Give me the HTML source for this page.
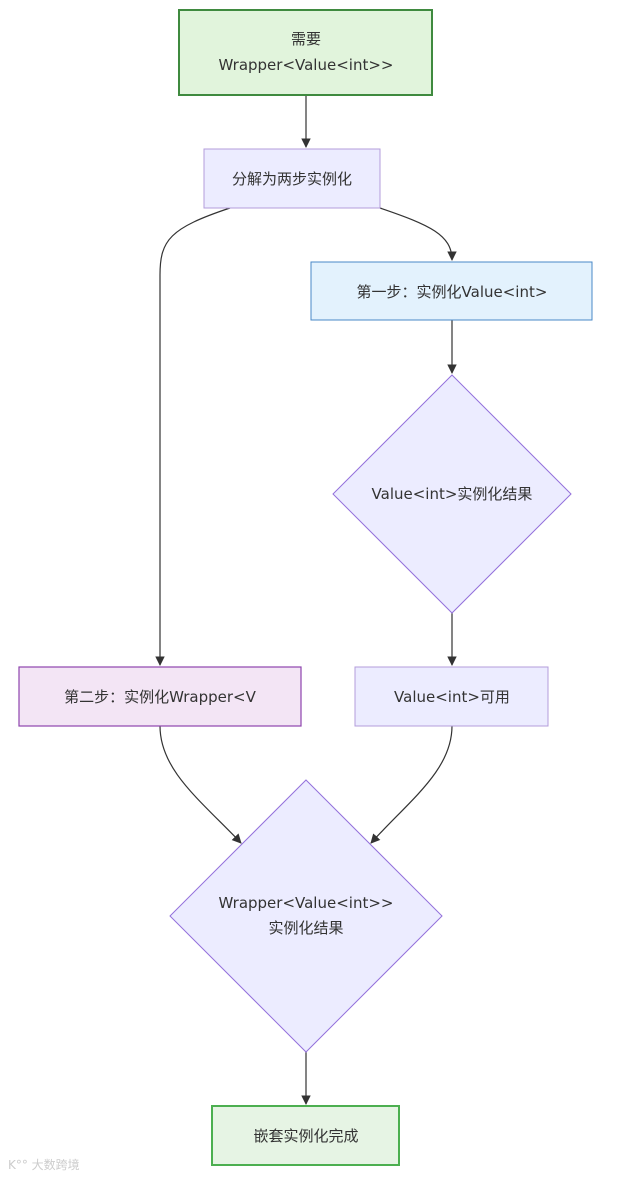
<!DOCTYPE html>
<html><head><meta charset="utf-8"><style>
html,body{margin:0;padding:0;background:#fff;}
svg{display:block;}
text{font-family:"DejaVu Sans","Noto Sans CJK SC",sans-serif;font-size:15px;fill:#333;}
</style></head><body>
<svg width="641" height="1178" viewBox="0 0 641 1178" xmlns="http://www.w3.org/2000/svg">
<defs><marker id="a" viewBox="0 0 10 10" refX="9" refY="5" markerWidth="8" markerHeight="8" orient="auto"><path d="M0,0L10,5L0,10z" fill="#333"/></marker></defs>
<g fill="none" stroke="#333" stroke-width="1.2">
<path d="M306,95V147" marker-end="url(#a)"/>
<path d="M230,208C170,228 160,240 160,275V665" marker-end="url(#a)"/>
<path d="M380,208C430,225 452,235 452,260" marker-end="url(#a)"/>
<path d="M452,320V373" marker-end="url(#a)"/>
<path d="M452,613V665" marker-end="url(#a)"/>
<path d="M160,726C160,770 200,800 241,843" marker-end="url(#a)"/>
<path d="M452,726C452,770 410,800 371,843" marker-end="url(#a)"/>
<path d="M306,1052V1104" marker-end="url(#a)"/>
</g>
<rect x="179" y="10" width="253" height="85" fill="#e1f4dc" stroke="#3f8a3f" stroke-width="2"/>
<text x="306" y="44" text-anchor="middle">需要</text>
<text x="306" y="70" text-anchor="middle">Wrapper&lt;Value&lt;int&gt;&gt;</text>
<rect x="204" y="149" width="176" height="59" fill="#ececff" stroke="#b39ddb" stroke-width="1"/>
<text x="292" y="184" text-anchor="middle">分解为两步实例化</text>
<rect x="311" y="262" width="281" height="58" fill="#e3f2fd" stroke="#4a88c7" stroke-width="1"/>
<text x="452" y="297" text-anchor="middle">第一步：实例化Value&lt;int&gt;</text>
<polygon points="452,375 571,494 452,613 333,494" fill="#ececff" stroke="#9370db" stroke-width="1"/>
<text x="452" y="499" text-anchor="middle">Value&lt;int&gt;实例化结果</text>
<rect x="19" y="667" width="282" height="59" fill="#f3e5f5" stroke="#8e44ad" stroke-width="1.2"/>
<text x="160" y="702" text-anchor="middle">第二步：实例化Wrapper&lt;V</text>
<rect x="355" y="667" width="193" height="59" fill="#ececff" stroke="#b39ddb" stroke-width="1"/>
<text x="452" y="702" text-anchor="middle">Value&lt;int&gt;可用</text>
<polygon points="306,780 442,916 306,1052 170,916" fill="#ececff" stroke="#9370db" stroke-width="1"/>
<text x="306" y="908" text-anchor="middle">Wrapper&lt;Value&lt;int&gt;&gt;</text>
<text x="306" y="933" text-anchor="middle">实例化结果</text>
<rect x="212" y="1106" width="187" height="59" fill="#e6f4e4" stroke="#4caf50" stroke-width="2"/>
<text x="306" y="1141" text-anchor="middle">嵌套实例化完成</text>
<text x="8" y="1169" style="font-size:12px;fill:#ccc">K°° 大数跨境</text>
</svg>
</body></html>
